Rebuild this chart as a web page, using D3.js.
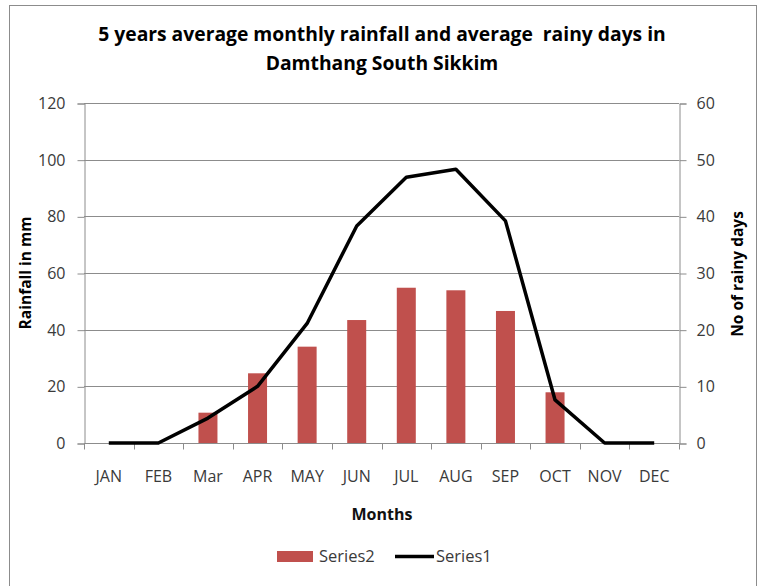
<!DOCTYPE html>
<html>
<head>
<meta charset="utf-8">
<script src="https://cdn.jsdelivr.net/npm/d3@7"></script>
<style>
  html, body { margin: 0; padding: 0; background: #fff; }
  svg { display: block; }
  text { font-family: "Open Sans", "Liberation Sans", sans-serif; }
</style>
</head>
<body>
<svg id="chart" width="764" height="586"></svg>
<script>
// Monthly data
const months = ["JAN", "FEB", "Mar", "APR", "MAY", "JUN", "JUL", "AUG", "SEP", "OCT", "NOV", "DEC"];
// Series2: average monthly rainfall (left axis)
const series2 = [0, 0, 10.7, 24.6, 34.0, 43.4, 54.8, 53.9, 46.6, 17.9, 0, 0];
// Series1: average rainy days (right axis)
const series1 = [0, 0, 4.4, 10.0, 21.1, 38.3, 46.9, 48.3, 39.2, 7.6, 0, 0];
const leftTicks = [0, 20, 40, 60, 80, 100, 120];
const rightTicks = [0, 10, 20, 30, 40, 50, 60];

const svg = d3.select("#chart");
const plot = { left: 84, right: 679, top: 103, bottom: 443 };
const gridColor = "#8c8c8c";
const labelColor = "#3a3a3a";

// Outer frame
svg.append("rect")
  .attr("x", 9.5).attr("y", 5.5)
  .attr("width", 747).attr("height", 590)
  .attr("fill", "#fff").attr("stroke", "#8c8c8c").attr("stroke-width", 1);

// Title
const title = svg.append("text")
  .attr("text-anchor", "middle")
  .attr("font-weight", "bold")
  .attr("font-size", 19.3)
  .attr("fill", "#000");
title.append("tspan").attr("x", 382).attr("y", 41)
  .text("5 years average monthly rainfall and average\u00a0 rainy days in");
title.append("tspan").attr("x", 382).attr("y", 70)
  .text("Damthang South Sikkim");

// Scales
const x = d3.scaleBand().domain(months).range([plot.left, plot.right]).paddingInner(0).paddingOuter(0);
const yL = d3.scaleLinear().domain([0, 120]).range([plot.bottom, plot.top]);
const yR = d3.scaleLinear().domain([0, 60]).range([plot.bottom, plot.top]);

// Horizontal gridlines
svg.append("g")
  .selectAll("line")
  .data(leftTicks.filter(d => d > 0))
  .join("line")
  .attr("x1", plot.left).attr("x2", plot.right)
  .attr("y1", d => Math.round(yL(d)) + 0.5).attr("y2", d => Math.round(yL(d)) + 0.5)
  .attr("stroke", gridColor).attr("stroke-width", 1);

// Left axis
const axL = svg.append("g")
  .attr("transform", `translate(${plot.left + 0.5},0.5)`)
  .call(d3.axisLeft(yL).tickValues(leftTicks).tickSize(7).tickPadding(12));
// Right axis
const axR = svg.append("g")
  .attr("transform", `translate(${plot.right + 0.5},0.5)`)
  .call(d3.axisRight(yR).tickValues(rightTicks).tickSize(7).tickPadding(10));
[axL, axR].forEach(ax => {
  ax.select(".domain").attr("stroke", gridColor);
  ax.selectAll(".tick line").attr("stroke", gridColor);
  ax.selectAll(".tick text")
    .attr("fill", labelColor)
    .attr("font-size", 16)
    .attr("font-family", "\"Open Sans\", sans-serif");
});

// Bars
const barW = 19;
svg.append("g")
  .selectAll("rect")
  .data(months.map((m, i) => ({ m, v: series2[i] })).filter(d => d.v > 0))
  .join("rect")
  .attr("x", d => x(d.m) + x.bandwidth() / 2 - barW / 2)
  .attr("y", d => yL(d.v))
  .attr("width", barW)
  .attr("height", d => yL(0) - yL(d.v))
  .attr("fill", "#c0504d");

// Bottom axis with ticks at category boundaries
const axX = svg.append("g")
  .attr("transform", `translate(0,${plot.bottom + 0.5})`);
axX.append("line")
  .attr("x1", plot.left).attr("x2", plot.right)
  .attr("stroke", gridColor);
axX.selectAll("line.tk")
  .data(d3.range(months.length + 1))
  .join("line")
  .attr("class", "tk")
  .attr("x1", i => Math.round(plot.left + i * x.bandwidth()) + 0.5)
  .attr("x2", i => Math.round(plot.left + i * x.bandwidth()) + 0.5)
  .attr("y1", 0).attr("y2", 6)
  .attr("stroke", gridColor);
axX.selectAll("text")
  .data(months)
  .join("text")
  .attr("x", d => x(d) + x.bandwidth() / 2)
  .attr("y", 38)
  .attr("text-anchor", "middle")
  .attr("font-size", 16)
  .attr("fill", labelColor)
  .text(d => d);

// Line
const line = d3.line()
  .x((d, i) => x(months[i]) + x.bandwidth() / 2)
  .y(d => yR(d));
svg.append("path")
  .datum(series1)
  .attr("d", line)
  .attr("fill", "none")
  .attr("stroke", "#000")
  .attr("stroke-width", 3.5)
  .attr("stroke-linejoin", "round");

// Axis titles
svg.append("text")
  .attr("x", 382).attr("y", 520)
  .attr("text-anchor", "middle")
  .attr("font-weight", "bold").attr("font-size", 16)
  .attr("fill", "#111")
  .text("Months");
svg.append("text")
  .attr("transform", "translate(31,273) rotate(-90)")
  .attr("text-anchor", "middle")
  .attr("font-weight", "bold").attr("font-size", 15.5)
  .attr("fill", "#000")
  .text("Rainfall in mm");
svg.append("text")
  .attr("transform", "translate(743,274) rotate(-90)")
  .attr("text-anchor", "middle")
  .attr("font-weight", "bold").attr("font-size", 15.5)
  .attr("fill", "#000")
  .text("No of rainy days");

// Legend
const lg = svg.append("g");
lg.append("rect")
  .attr("x", 277).attr("y", 551).attr("width", 36).attr("height", 11)
  .attr("fill", "#c0504d");
lg.append("text")
  .attr("x", 319).attr("y", 562).attr("font-size", 16.5).attr("fill", labelColor)
  .text("Series2");
lg.append("line")
  .attr("x1", 395).attr("x2", 434).attr("y1", 556.5).attr("y2", 556.5)
  .attr("stroke", "#000").attr("stroke-width", 3.5);
lg.append("text")
  .attr("x", 436).attr("y", 562).attr("font-size", 16.5).attr("fill", labelColor)
  .text("Series1");
</script>
</body>
</html>
